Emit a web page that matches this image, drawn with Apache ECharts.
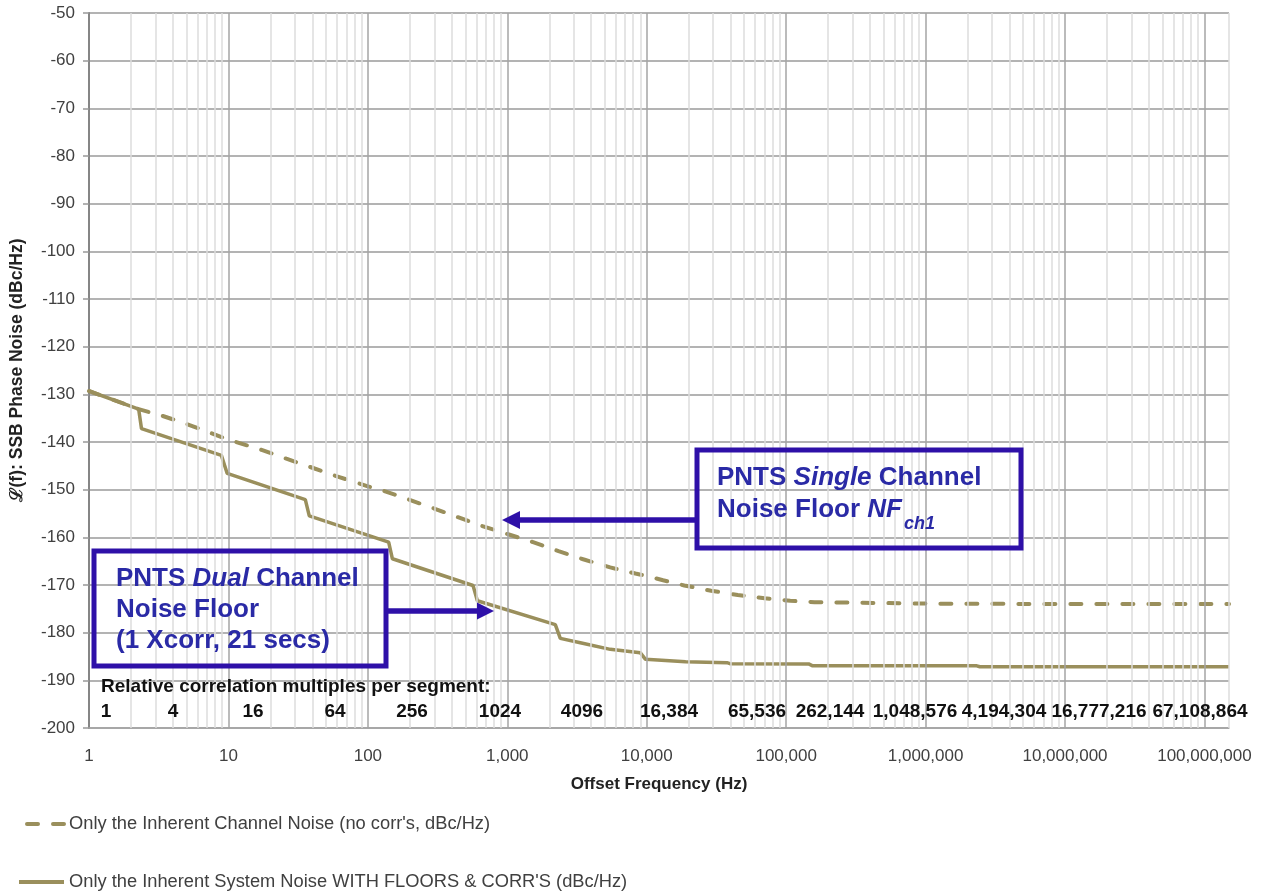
<!DOCTYPE html>
<html><head><meta charset="utf-8">
<script src="https://cdn.jsdelivr.net/npm/echarts@6/dist/echarts.min.js"></script>
<style>html,body{margin:0;padding:0;background:#fff;}#chart{width:1265px;height:892px;}</style>
</head><body><div id="chart"></div>
<script>
// ---- data ----
const channelFreq  = [1, 2.27, 3.35, 5, 7.6, 10, 17.5, 26, 40, 60, 100, 126, 296, 640, 1000, 1530, 2330, 3500, 5470, 8300, 10000, 13100, 18600, 29000, 45000, 70000, 107000, 160000, 1000000, 10000000, 150000000];
const channelNoise = [-129.3, -133.1, -134.5, -136.2, -138.2, -139.5, -141.7, -143.5, -145.4, -147.2, -149.3, -150.1, -153.9, -157.5, -159.3, -161.0, -162.9, -164.6, -166.3, -167.6, -168.1, -169.0, -170.1, -171.2, -172.1, -172.8, -173.3, -173.6, -173.9, -174.0, -174.0];
const systemFreq   = [1, 2.27, 2.38, 8.9, 9.8, 35.6, 38, 141, 150, 568, 610, 2210, 2400, 3340, 5480, 8980, 9800, 19000, 37600, 39500, 145000, 155000, 2330000, 2450000, 150000000];
const systemNoise  = [-129.3, -133.1, -137.2, -142.8, -146.6, -152.1, -155.5, -161.0, -164.5, -170.1, -173.3, -178.3, -181.2, -182.1, -183.5, -184.2, -185.6, -186.1, -186.3, -186.5, -186.55, -186.95, -186.95, -187.15, -187.15];
const multiples    = ['1', '4', '16', '64', '256', '1024', '4096', '16,384', '65,536', '262,144', '1,048,576', '4,194,304', '16,777,216', '67,108,864'];
const channelName  = "Only the Inherent Channel Noise (no corr's, dBc/Hz)";
const systemName   = "Only the Inherent System Noise WITH FLOORS & CORR'S (dBc/Hz)";
const xMin = 1, xMax = 150000000;
const yMin = -200, yMax = -50, yStep = 10;

// ---- layout / style ----
const FONT = '"Liberation Sans", Arial, sans-serif';
const OLIVE = '#9a8f5c';
const BLUE = '#2e10a8';
const TXT = '#2a2aa6';
const multipleLabelX = [106, 173, 253, 335, 412, 500, 582, 669, 757, 830, 915, 1004, 1099, 1200];

const minorLines = [], majorLines = [];
for (let e = 0; e <= 8; e++) {
  const d = Math.pow(10, e);
  if (e > 0) majorLines.push(d);
  for (let m = 2; m <= 9; m++) { const v = m * d; if (v < xMax) minorLines.push(v); }
}
const gridMarks = minorLines.map(v => ({xAxis: v, lineStyle: {color: '#dcdcdc', width: 1.5, type: 'solid'}}))
  .concat(majorLines.map(v => ({xAxis: v, lineStyle: {color: '#a4a4a4', width: 1.5, type: 'solid'}})))
  .concat([{xAxis: xMax, lineStyle: {color: '#dcdcdc', width: 1.5, type: 'solid'}}]);

const isPow10 = v => Math.abs(Math.log10(v) - Math.round(Math.log10(v))) < 1e-6;

const rich26 = {
  n: {fontFamily: FONT, fontSize: 26, fontWeight: 'bold', fill: TXT},
  i: {fontFamily: FONT, fontSize: 26, fontWeight: 'bold', fontStyle: 'italic', fill: TXT}
};
function boxText(x, y, text) {
  return {type: 'text', x: x, y: y, z: 100, style: {text: text, rich: rich26, align: 'left', verticalAlign: 'middle'}};
}

const graphic = [
  // Single channel box + arrow
  {type: 'rect', z: 100, shape: {x: 697, y: 450, width: 324, height: 98}, style: {fill: 'none', stroke: BLUE, lineWidth: 5}},
  boxText(717, 478, '{n|PNTS }{i|Single}{n| Channel}'),
  boxText(717, 510, '{n|Noise Floor }{i|NF}'),
  {type: 'text', x: 904, y: 524, z: 100, style: {text: 'ch1', font: 'italic bold 18px ' + FONT, fill: TXT, verticalAlign: 'middle'}},
  {type: 'line', z: 100, shape: {x1: 518, y1: 520, x2: 695, y2: 520}, style: {stroke: BLUE, lineWidth: 5.5}},
  {type: 'polygon', z: 100, shape: {points: [[502, 520], [520, 511], [520, 529]]}, style: {fill: BLUE}},
  // Dual channel box + arrow
  {type: 'rect', z: 100, shape: {x: 94, y: 551, width: 292, height: 115}, style: {fill: 'none', stroke: BLUE, lineWidth: 5}},
  boxText(116, 579, '{n|PNTS }{i|Dual}{n| Channel}'),
  boxText(116, 610, '{n|Noise Floor}'),
  boxText(116, 641, '{n|(1 Xcorr, 21 secs)}'),
  {type: 'line', z: 100, shape: {x1: 388, y1: 611, x2: 479, y2: 611}, style: {stroke: BLUE, lineWidth: 5.5}},
  {type: 'polygon', z: 100, shape: {points: [[494, 611], [477, 602.5], [477, 619.5]]}, style: {fill: BLUE}},
  // correlation multiples row
  {type: 'text', x: 101, y: 687, z: 100, style: {text: 'Relative correlation multiples per segment:', font: 'bold 19px ' + FONT, fill: '#111', verticalAlign: 'middle'}}
].concat(multiples.map((t, i) => ({
  type: 'text', x: multipleLabelX[i], y: 712, z: 100,
  style: {text: t, font: 'bold 19px ' + FONT, fill: '#111', align: 'center', verticalAlign: 'middle'}
})));

const legendCommon = {
  orient: 'horizontal', padding: 0, itemHeight: 14, selectedMode: false,
  itemStyle: {opacity: 0, borderWidth: 0},
  lineStyle: {width: 4},
  textStyle: {fontFamily: FONT, fontSize: 18.3, color: '#404040'}
};

const option = {
  animation: false,
  backgroundColor: '#fff',
  grid: {left: 89, right: 36, top: 13, bottom: 164, containLabel: false},
  xAxis: {
    type: 'log', logBase: 10, min: xMin, max: xMax, splitNumber: 10,
    name: 'Offset Frequency (Hz)', nameLocation: 'middle', nameGap: 48,
    nameTextStyle: {fontFamily: FONT, fontSize: 17, fontWeight: 'bold', color: '#222'},
    axisLine: {show: true, lineStyle: {color: '#a4a4a4', width: 1.5}},
    axisTick: {show: false},
    splitLine: {show: false},
    minorTick: {show: false},
    axisLabel: {
      margin: 20, fontFamily: FONT, fontSize: 17, color: '#404040',
      formatter: v => isPow10(v) ? Math.round(v).toLocaleString('en-US') : ''
    }
  },
  yAxis: {
    type: 'value', min: yMin, max: yMax, interval: yStep,
    name: '\u2112(f): SSB Phase Noise (dBc/Hz)', nameLocation: 'middle', nameGap: 63, nameRotate: 90,
    nameTextStyle: {fontFamily: FONT, fontSize: 17.5, fontWeight: 'bold', color: '#222'},
    axisLine: {show: true, lineStyle: {color: '#868686', width: 2}},
    axisTick: {show: true, length: 6, lineStyle: {color: '#999', width: 1.5}},
    splitLine: {show: true, lineStyle: {color: '#9a9a9a', width: 1.5}},
    axisLabel: {margin: 14, fontFamily: FONT, fontSize: 17, color: '#404040'}
  },
  legend: [
    Object.assign({data: [channelName], left: 25, top: 815, itemWidth: 37}, legendCommon),
    Object.assign({data: [systemName], left: 17, top: 873, itemWidth: 45}, legendCommon)
  ],
  series: [
    {
      name: 'grid', type: 'line', data: [], z: -1, silent: true,
      markLine: {silent: true, symbol: ['none', 'none'], label: {show: false}, animation: false, data: gridMarks}
    },
    {
      name: channelName, type: 'line', z: 3,
      data: channelFreq.map((f, i) => [f, channelNoise[i]]),
      symbol: 'none', showSymbol: false,
      lineStyle: {color: OLIVE, width: 4, type: [11, 15], cap: 'round'},
      itemStyle: {color: OLIVE}
    },
    {
      name: systemName, type: 'line', z: 4,
      data: systemFreq.map((f, i) => [f, systemNoise[i]]),
      symbol: 'none', showSymbol: false,
      lineStyle: {color: OLIVE, width: 3.5, type: 'solid'},
      itemStyle: {color: OLIVE}
    }
  ],
  graphic: graphic
};
const chart = echarts.init(document.getElementById('chart'));
chart.setOption(option);
</script>
</body></html>
